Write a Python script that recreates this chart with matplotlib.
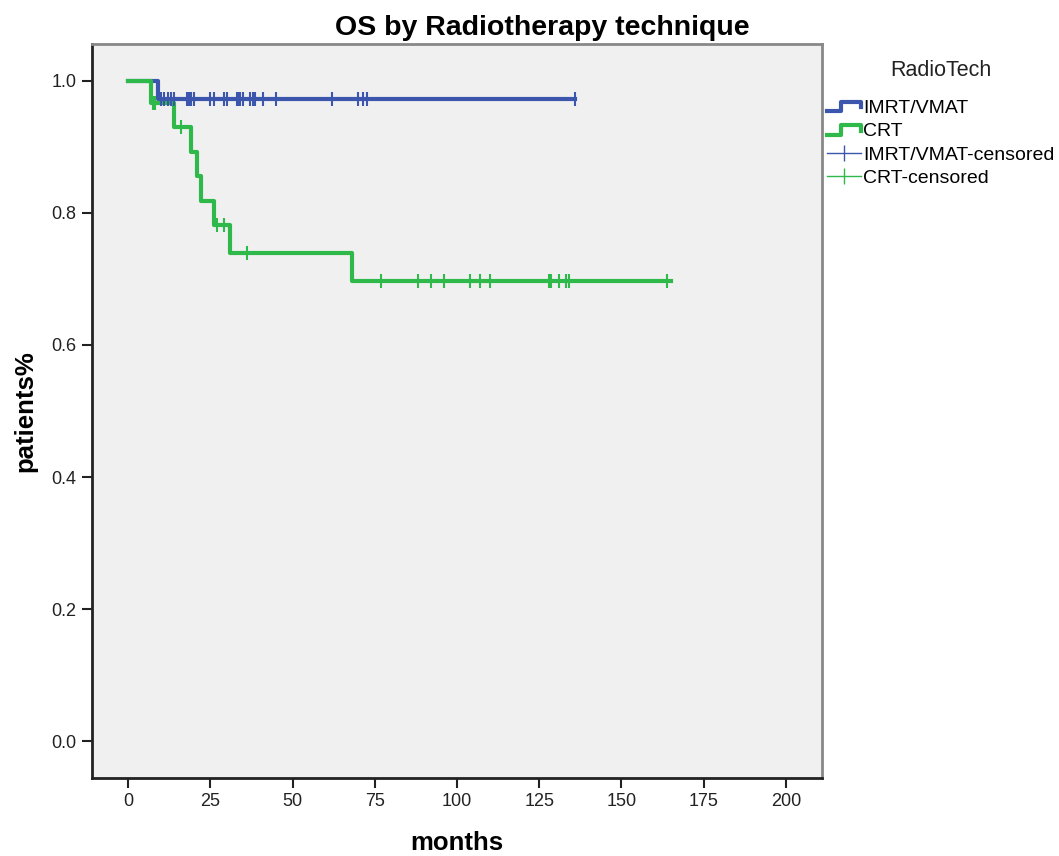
import numpy as np
import matplotlib.pyplot as plt
from matplotlib.lines import Line2D
from matplotlib.legend_handler import HandlerBase

plt.rcParams['font.family'] = ['Liberation Sans', 'DejaVu Sans']

# Kaplan-Meier step data (months, survival)
imrt_times = [0, 9]
imrt_surv = [1.0, 0.973]
imrt_end = 136
imrt_censored = [10, 11, 12, 13, 14, 18, 18.5, 19, 20, 25, 26, 29, 30, 33, 33.5,
                 34, 35, 37, 38, 38.5, 41, 45, 62, 70, 71.5, 72.5, 136]

crt_times = [0, 7, 14, 19, 21, 22, 26, 31, 68]
crt_surv = [1.0, 0.966, 0.930, 0.893, 0.856, 0.818, 0.782, 0.740, 0.697]
crt_end = 165
crt_censored = [7.5, 8.2, 16, 27, 29, 36, 77, 88, 92, 96, 104, 107, 110,
                128, 128.7, 131, 133, 134, 164]

blue = '#3d56ad'
green = '#2fb94b'


def surv_at(times, surv, t):
    # survival value of the step function at time t
    idx = np.searchsorted(times, t, side='right') - 1
    return np.array(surv)[idx]


class StepHandler(HandlerBase):
    def create_artists(self, legend, orig_handle, xdescent, ydescent,
                       width, height, fontsize, trans):
        x = np.array([0, 0.42, 0.42, 1.0, 1.0]) * width - xdescent
        y = np.array([0.1, 0.1, 0.8, 0.8, 0.4]) * height - ydescent
        line = Line2D(x, y, color=orig_handle.get_color(),
                      lw=orig_handle.get_linewidth(), transform=trans)
        return [line]


fig = plt.figure(figsize=(10.59, 8.56), dpi=100)
ax = fig.add_axes([92 / 1059, 1 - 778 / 856, (822 - 92) / 1059, (778 - 44) / 856])
ax.set_facecolor('#f0f0f0')

# survival curves
x_imrt = list(imrt_times) + [imrt_end]
y_imrt = list(imrt_surv) + [imrt_surv[-1]]
x_crt = list(crt_times) + [crt_end]
y_crt = list(crt_surv) + [crt_surv[-1]]
ax.step(x_imrt, y_imrt, where='post', color=blue, lw=3)
ax.step(x_crt, y_crt, where='post', color=green, lw=3)

# censored marks
ax.plot(imrt_censored, surv_at(imrt_times, imrt_surv, imrt_censored), ls='none',
        marker='|', ms=9.5, mew=1.5, color=blue)
ax.plot(crt_censored, surv_at(crt_times, crt_surv, crt_censored), ls='none',
        marker='|', ms=9.5, mew=1.5, color=green)

ax.set_xlim(-11, 211)
ax.set_ylim(-0.056, 1.056)
ax.set_xticks(np.arange(0, 201, 25))
ax.set_yticks(np.arange(0, 1.01, 0.2))
ax.set_yticklabels(['%.1f' % v for v in np.arange(0, 1.01, 0.2)])
ax.tick_params(direction='out', length=7, width=1.5, labelsize=13, pad=4,
               color='#222222', labelcolor='#222222')

for s in ['left', 'bottom']:
    ax.spines[s].set_linewidth(2)
    ax.spines[s].set_color('#222222')
for s in ['top', 'right']:
    ax.spines[s].set_linewidth(2)
    ax.spines[s].set_color('#888888')

ax.set_xlabel('months', fontsize=18.5, fontweight='bold', labelpad=15)
ax.set_ylabel('patients%', fontsize=18.5, fontweight='bold', labelpad=10)
fig.text(542 / 1059, 1 - 28 / 856, 'OS by Radiotherapy technique', ha='center',
         va='center', fontsize=20.5, fontweight='bold')

# legend
h1 = Line2D([], [], color=blue, lw=3)
h2 = Line2D([], [], color=green, lw=3)
h3 = Line2D([], [], color=blue, lw=1, marker='|', ms=12, mew=1)
h4 = Line2D([], [], color=green, lw=1, marker='|', ms=12, mew=1)
leg = fig.legend([h1, h2, h3, h4],
                 ['IMRT/VMAT', 'CRT', 'IMRT/VMAT-censored', 'CRT-censored'],
                 loc='upper left', bbox_to_anchor=(825 / 1059, 1 - 58 / 856),
                 frameon=False, title='RadioTech', fontsize=14,
                 title_fontsize=15.5, handlelength=1.75, handletextpad=0.1,
                 labelspacing=0.3, borderaxespad=0, borderpad=0.1,
                 handler_map={h1: StepHandler(), h2: StepHandler()})
leg.get_title().set_color('#222222')
leg._legend_box.sep = 13

fig.savefig('out.png', dpi=100)
